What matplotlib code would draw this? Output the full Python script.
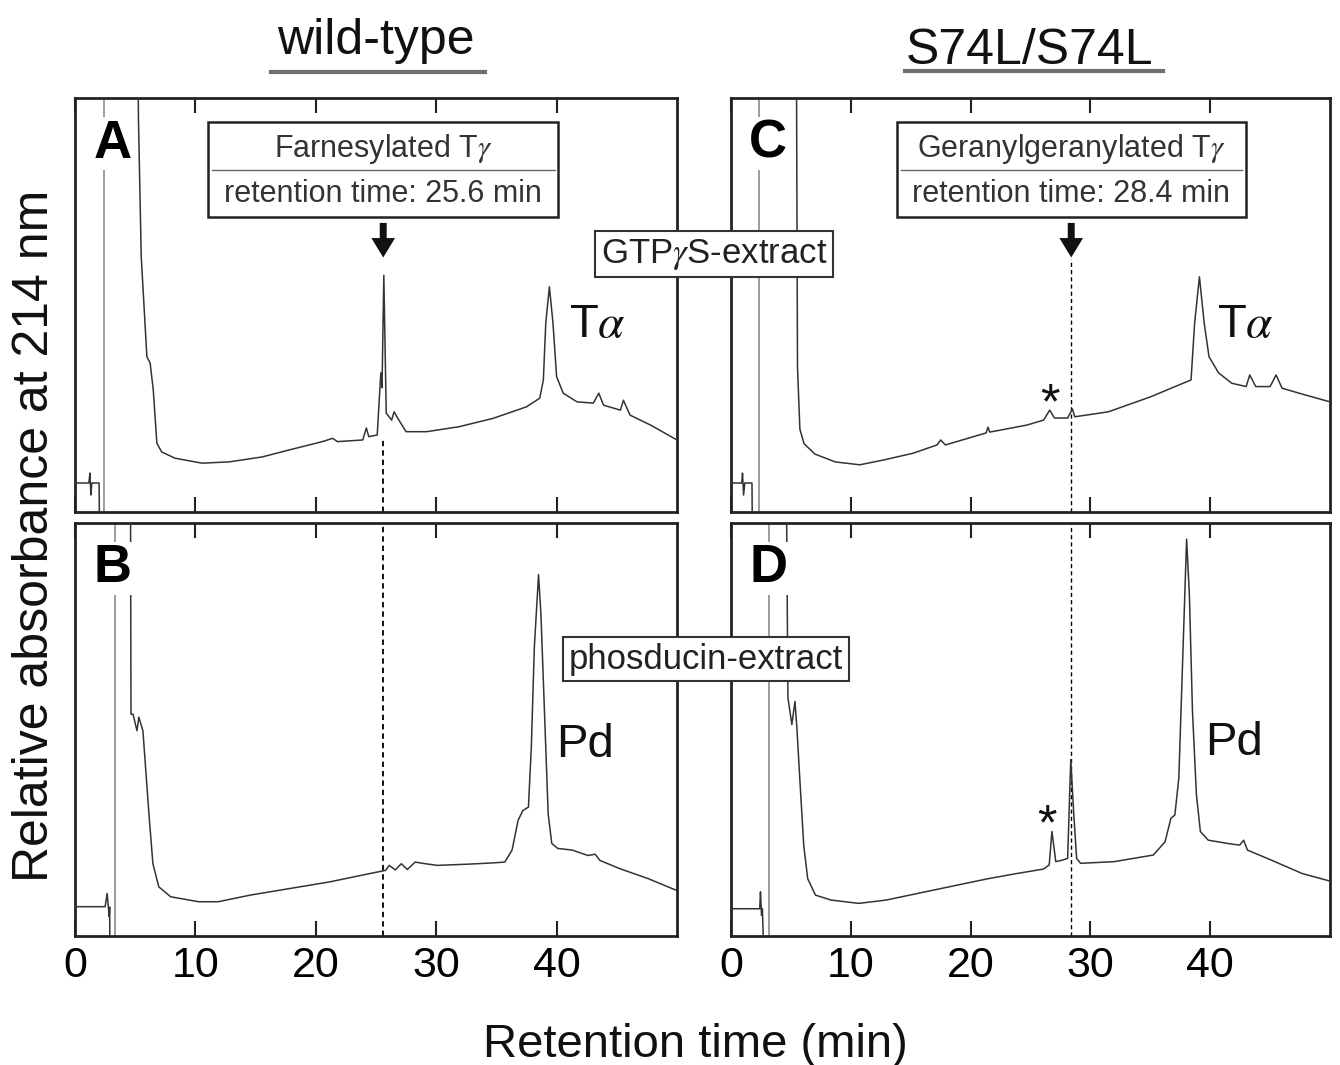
import numpy as np
import matplotlib
matplotlib.use("Agg")
import matplotlib.pyplot as plt
from matplotlib.patches import Rectangle

plt.rcParams['font.family'] = ['Liberation Sans', 'DejaVu Sans']
plt.rcParams['mathtext.fontset'] = 'stix'

nan = np.nan

# --- chromatograms, retention time (min) vs relative absorbance (0-100 = panel height)
# values above 100 / below 0 run off the panel; nan breaks the trace
time_A = [0, 1.15, 1.24, 1.32, 1.4, 2.0, 2.05, nan, 5.2, 5.27, 5.5, 5.97, 6.24, 6.5, 6.8, 7.2,
          8.3, 10.55, 12.8, 15.55, 17.8, 20.55, 21.4, 21.8, 23.9, 24.2, 24.4, 25.1, 25.4, 25.5,
          25.65, 25.85, 26.3, 26.5, 26.8, 27.05, 27.5, 29.2, 31.9, 34.7, 37.5, 38.6, 38.9, 39.1,
          39.4, 39.7, 40.0, 40.55, 41.7, 43.05, 43.5, 43.9, 45.3, 45.55, 46.1, 47.8, 50.0]
abs_A = [7.0, 7.0, 9.4, 4.1, 7.0, 7.0, -10, nan, 120, 95, 61.7, 37.5, 36.0, 29.5, 16.6, 14.5,
         13.0, 11.8, 12.1, 13.3, 15.0, 17.0, 17.8, 17.0, 17.4, 20.3, 18.2, 18.6, 33.6, 30.0,
         57.2, 23.9, 22.2, 24.2, 22.7, 21.5, 19.4, 19.4, 20.6, 22.6, 25.4, 27.5, 31.9, 45.6,
         54.4, 45.6, 32.7, 28.7, 26.6, 26.3, 28.7, 25.8, 24.6, 27.0, 23.4, 21.0, 17.4]

time_B = [0, 2.5, 2.67, 2.84, 2.88, 2.9, nan, 4.6, 4.65, 4.82, 5.15, 5.3, 5.64, 6.14, 6.47, 6.96,
          7.95, 10.26, 11.9, 14.55, 17.85, 21.15, 24.45, 25.8, 26.1, 26.6, 27.1, 27.6, 28.25,
          29.1, 30.1, 32.7, 34.7, 35.7, 36.3, 36.8, 37.2, 37.66, 37.9, 38.15, 38.5, 38.7, 39.0,
          39.3, 39.6, 40.1, 41.3, 42.6, 43.2, 43.6, 45.25, 47.6, 50.0]
abs_B = [7.1, 7.1, 10.3, 4.7, 7.0, -10, nan, 120, 53.7, 53.7, 49.7, 53.0, 49.7, 29.6, 17.5, 11.9,
         9.5, 8.3, 8.3, 9.9, 11.5, 13.1, 15.1, 15.9, 17.1, 16.0, 17.5, 16.1, 17.9,
         17.5, 17.1, 17.4, 17.7, 17.9, 20.8, 28.0, 30.4, 31.2, 45.7, 69.8, 87.5, 77.9, 53.7,
         29.6, 22.4, 21.2, 20.8, 19.5, 19.8, 18.3, 16.3, 13.9, 11.0]

time_C = [0, 0.9, 0.96, 1.05, 1.15, 1.75, 1.8, nan, 5.45, 5.55, 5.75, 6.1, 7.0, 8.7, 10.75, 12.8,
          15.2, 17.2, 17.5, 17.9, 21.3, 21.45, 21.6, 24.7, 26.1, 26.6, 27.0, 28.1, 28.5, 28.7,
          31.5, 35.0, 38.4, 38.7, 39.1, 39.5, 39.9, 40.7, 41.8, 43.0, 43.3, 43.8, 45.0, 45.5,
          46.0, 47.9, 50.0]
abs_C = [7.0, 7.0, 9.4, 4.1, 7.0, 7.0, -10, nan, 120, 35, 20, 16.5, 14.0, 12.1, 11.4, 12.6,
         14.2, 16.2, 17.4, 16.2, 19.1, 20.5, 19.3, 21.0, 22.2, 24.6, 22.7, 22.7, 24.9, 23.0,
         24.2, 27.8, 31.9, 45.6, 56.8, 45.6, 37.5, 33.6, 31.1, 30.3, 33.1, 30.3, 30.3, 33.1,
         29.9, 28.3, 26.6]

time_D = [0, 2.4, 2.46, 2.55, 2.62, 2.8, nan, 4.6, 4.75, 5.08, 5.34, 5.5, 5.74, 6.07, 6.4, 7.05,
          8.36, 10.66, 12.95, 15.57, 18.85, 21.5, 23.8, 26.07, 26.56, 26.79, 27.11, 27.7, 28.1,
          28.36, 28.6, 28.85, 29.18, 31.97, 35.25, 36.23, 36.72, 37.05, 37.38, 37.7, 38.03,
          38.26, 38.52, 38.85, 39.18, 39.84, 41.48, 42.46, 42.79, 43.11, 45.08, 47.7, 50.0]
abs_D = [6.6, 6.6, 10.7, 5.0, 6.6, -10, nan, 120, 57.7, 51.2, 56.8, 50.4, 38.2, 22.0, 13.9, 9.9,
         8.7, 7.9, 8.7, 10.3, 12.3, 13.9, 15.1, 16.2, 17.2, 25.3, 18.0, 18.4, 18.8,
         42.7, 30.1, 18.8, 17.6, 18.0, 19.6, 22.8, 28.5, 29.3, 38.2, 66.6, 96.1,
         82.8, 54.4, 34.2, 25.3, 23.2, 22.4, 22.0, 23.2, 20.8, 18.4, 15.1, 13.3]

injection = {'A': 2.43, 'B': 3.33, 'C': 2.33, 'D': 3.2}

rt_farnesyl = 25.6
rt_geranyl = 28.4

xticks = [0, 10, 20, 30, 40]

fig = plt.figure(figsize=(13.4, 10.65), dpi=100)
W, H = 1340.0, 1065.0


def panel(left, top, right, bottom):
    return fig.add_axes([left / W, 1 - bottom / H, (right - left) / W, (bottom - top) / H])


axA = panel(75, 98, 677, 512)
axB = panel(75, 523, 677, 936)
axC = panel(731, 98, 1330, 512)
axD = panel(731, 523, 1330, 936)

traces = {'A': (axA, time_A, abs_A), 'B': (axB, time_B, abs_B),
          'C': (axC, time_C, abs_C), 'D': (axD, time_D, abs_D)}

for name, (ax, t, a) in traces.items():
    ax.plot(t, a, color='#333333', lw=1.1, zorder=3)
    ax.axvline(injection[name], color='#8c8c8c', lw=1.2, zorder=2)
    ax.set_xlim(0, 50)
    ax.set_ylim(0, 100)
    ax.set_yticks([])
    ax.set_xticks(xticks)
    ax.tick_params(axis='x', direction='in', top=True, bottom=True, length=11, width=1.5,
                   labelsize=31, pad=7, color='#222222')
    for s in ax.spines.values():
        s.set_linewidth(2.0)
        s.set_color('#222222')
    ax.text(0.062, 0.89, name, transform=ax.transAxes, fontsize=38, fontweight='bold',
            ha='center', va='center', zorder=6,
            bbox=dict(facecolor='white', edgecolor='none', pad=1))

for ax in (axA, axC):
    ax.tick_params(labelbottom=False)

# dashed retention-time markers
axA.plot([rt_farnesyl, rt_farnesyl], [0, 18], ls=(0, (3, 2.2)), color='black', lw=1.3)
axB.axvline(rt_farnesyl, ls=(0, (3, 2.2)), color='black', lw=1.3)
axC.plot([rt_geranyl, rt_geranyl], [0, 61], ls=(0, (3, 2.2)), color='black', lw=1.0)
axD.axvline(rt_geranyl, ls=(0, (3, 2.2)), color='black', lw=1.0)


def rt_box(ax, rt, line1, line2):
    half = 14.55
    ax.add_patch(Rectangle((rt - half, 71.3), 2 * half, 23.0, facecolor='white',
                           edgecolor='#222222', lw=1.8, zorder=5))
    ax.plot([rt - half + 0.3, rt + half - 0.3], [82.6, 82.6], color='#666666', lw=1.0, zorder=6)
    ax.text(rt, 87.8, line1, ha='center', va='center', fontsize=22, color='#333333', zorder=7)
    ax.text(rt, 76.8, line2, ha='center', va='center', fontsize=22, color='#333333', zorder=7)
    ax.annotate('', xy=(rt, 60.8), xytext=(rt, 70.5),
                arrowprops=dict(arrowstyle='simple,head_length=0.7,head_width=0.85,tail_width=0.25',
                                mutation_scale=20, color='#111111', lw=0), zorder=7)


rt_box(axA, rt_farnesyl, r'Farnesylated T$\gamma$', 'retention time: %.1f min' % rt_farnesyl)
rt_box(axC, rt_geranyl, r'Geranylgeranylated T$\gamma$', 'retention time: %.1f min' % rt_geranyl)

# peak labels
axA.text(43.4, 45.2, r'T$\alpha$', fontsize=34, ha='center', va='center', color='#111111')
axC.text(42.9, 45.2, r'T$\alpha$', fontsize=34, ha='center', va='center', color='#111111')
axB.text(42.4, 46.2, 'Pd', fontsize=34, ha='center', va='center', color='#111111')
axD.text(42.0, 46.7, 'Pd', fontsize=34, ha='center', va='center', color='#111111')
axC.text(26.6, 22.5, '*', fontsize=36, ha='center', va='baseline', color='#111111')
axD.text(26.4, 23.5, '*', fontsize=36, ha='center', va='baseline', color='#111111')

# extract labels spanning both columns
fig.text(714 / W, 1 - 254 / H, r'GTP$\gamma$S-extract', fontsize=25, ha='center', va='center',
         color='#222222', zorder=10,
         bbox=dict(facecolor='white', edgecolor='#333333', lw=1.5, pad=4))
fig.text(706 / W, 1 - 659 / H, 'phosducin-extract', fontsize=25, ha='center', va='center',
         color='#222222', zorder=10,
         bbox=dict(facecolor='white', edgecolor='#333333', lw=1.5, pad=4))

# column titles with underline
fig.text(376 / W, 1 - 54 / H, 'wild-type', fontsize=36, ha='center', va='baseline', color='#111111')
fig.text(1030 / W, 1 - 64 / H, 'S74L/S74L', fontsize=36, ha='center', va='baseline', color='#111111')
fig.add_artist(plt.Line2D([271 / W, 485 / W], [1 - 72 / H, 1 - 72 / H], color='#6e6e6e', lw=3))
fig.add_artist(plt.Line2D([905 / W, 1163 / W], [1 - 71 / H, 1 - 71 / H], color='#6e6e6e', lw=3))

fig.text(695 / W, 1 - 1057 / H, 'Retention time (min)', fontsize=34, ha='center', va='baseline',
         color='#111111')
fig.text(35 / W, 1 - 536 / H, 'Relative absorbance at 214 nm', fontsize=36, rotation=90,
         ha='center', va='center', color='#111111')

fig.savefig('out.png', dpi=100, facecolor='white')
